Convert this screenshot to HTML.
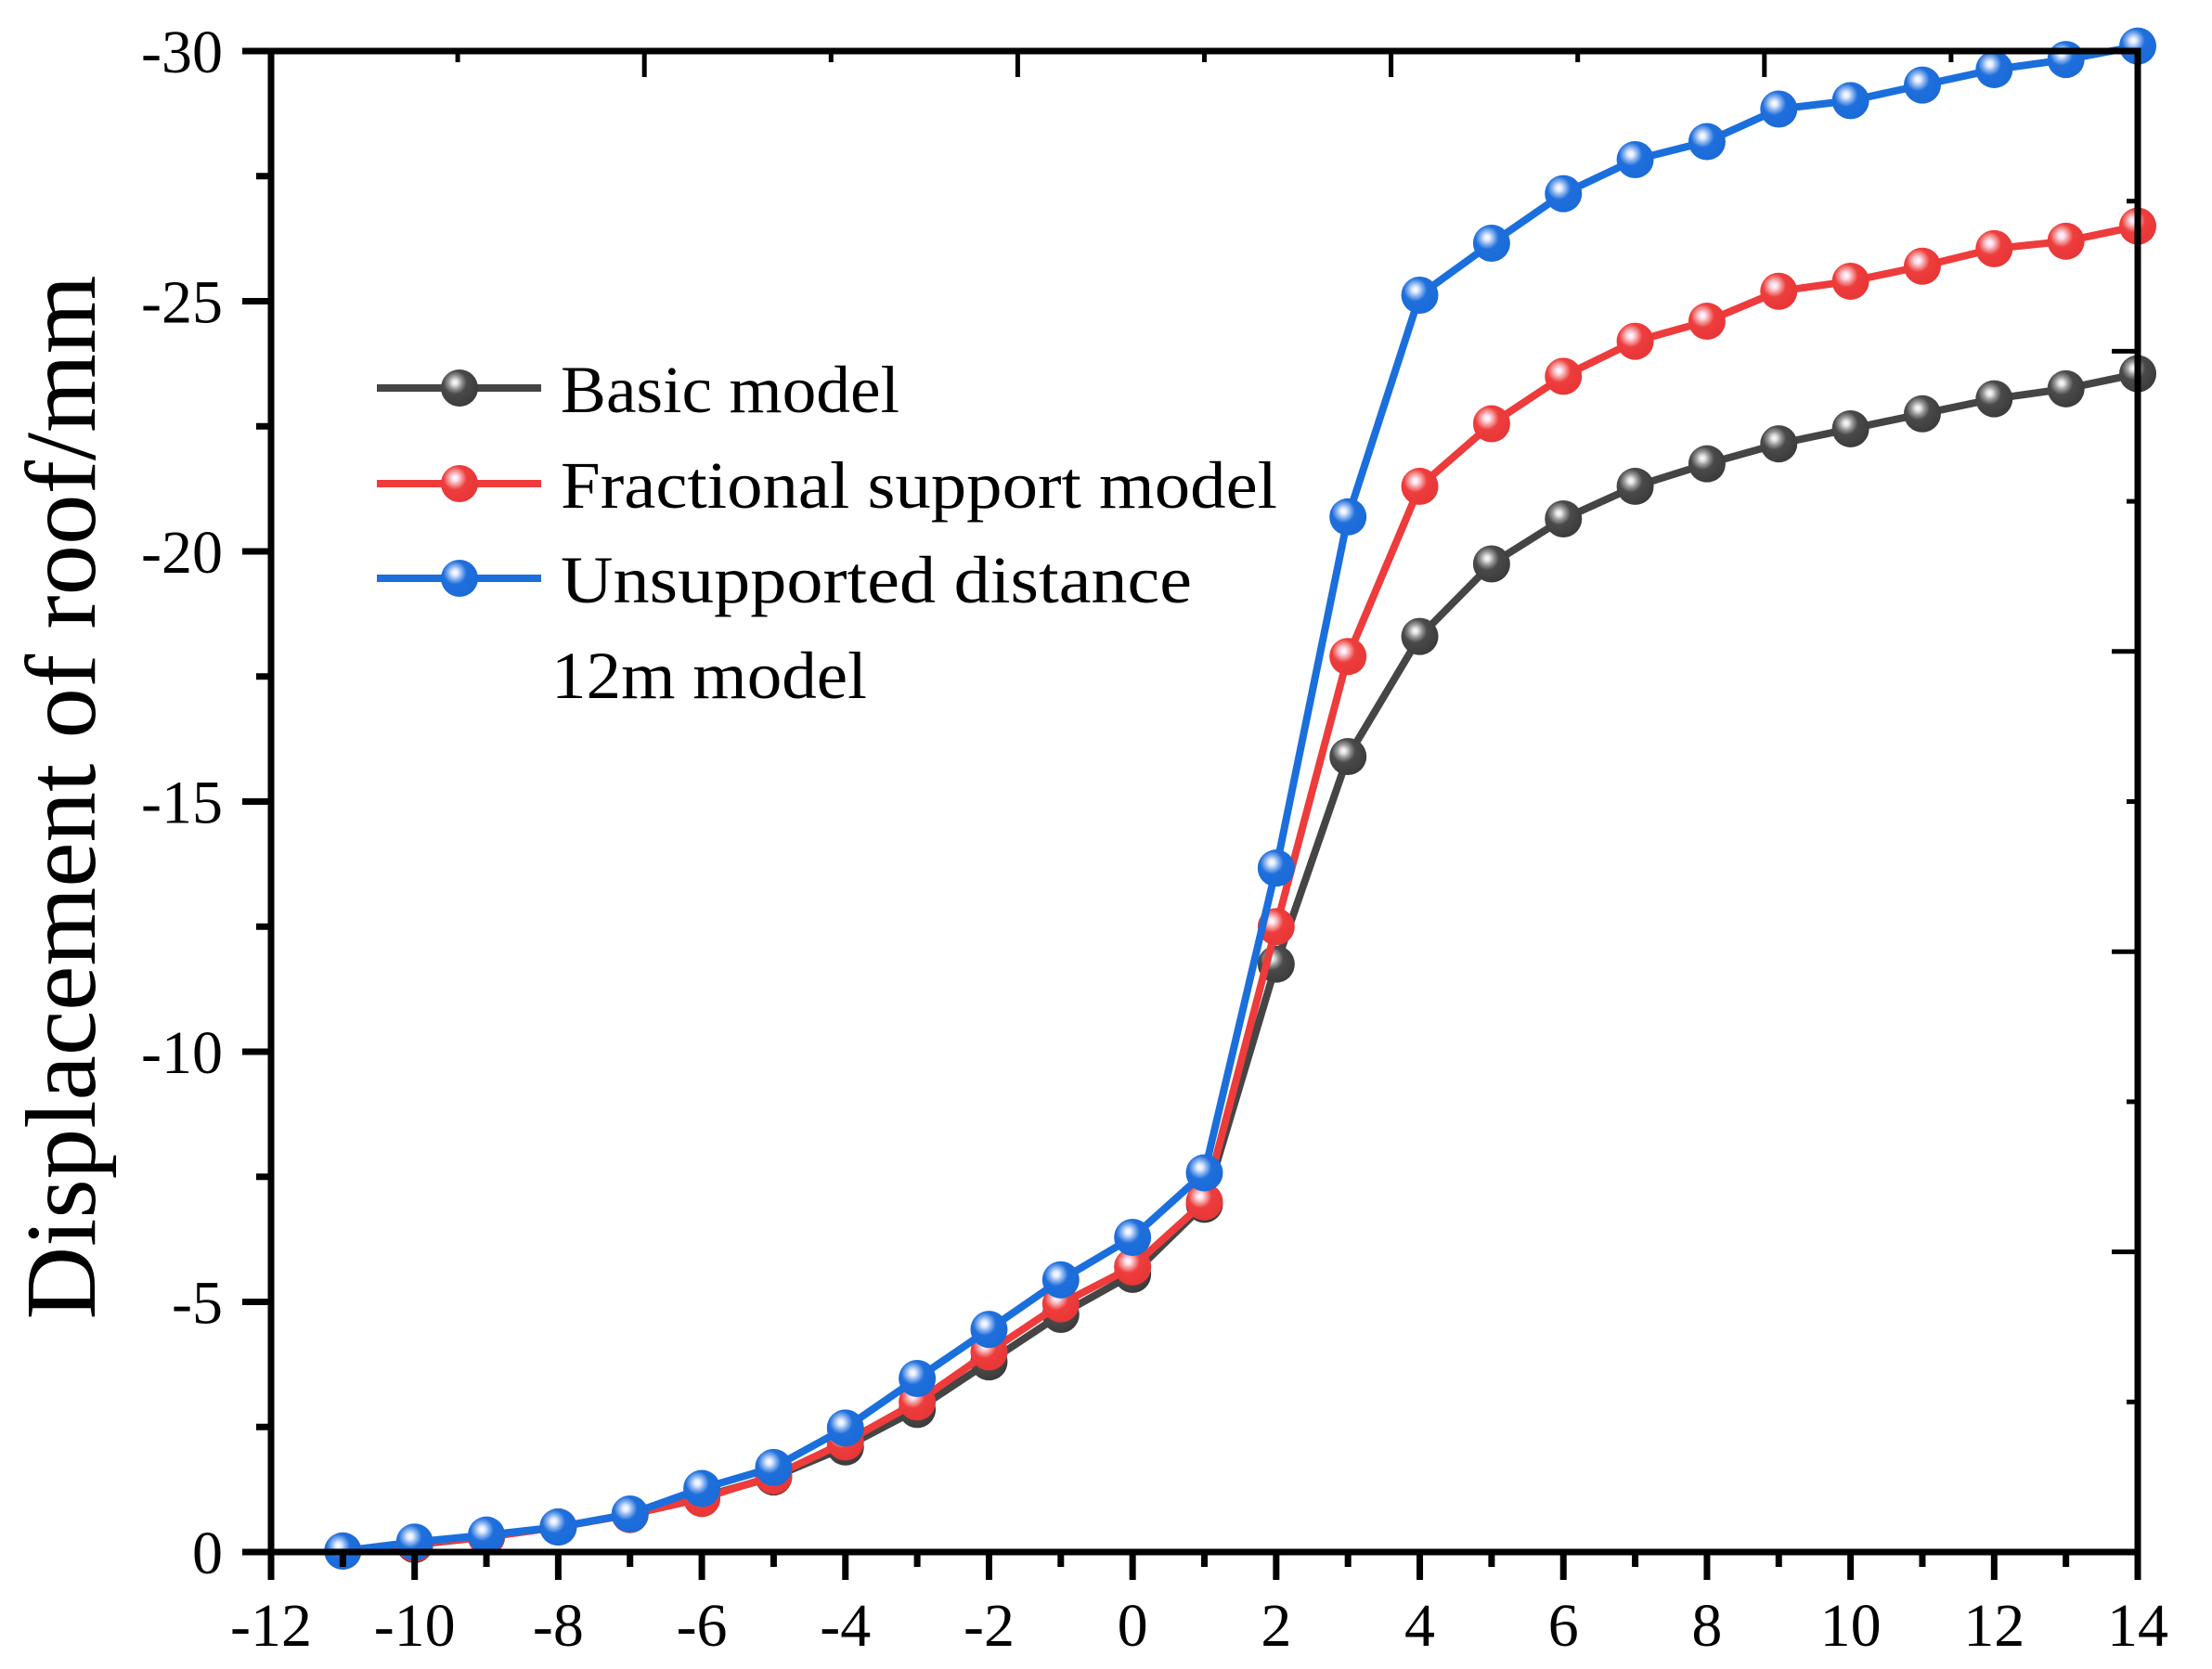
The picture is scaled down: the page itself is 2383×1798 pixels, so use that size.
<!DOCTYPE html>
<html><head><meta charset="utf-8"><style>html,body{margin:0;padding:0;background:#fff}svg{display:block}</style></head>
<body>
<svg id="chart" width="2383" height="1798" viewBox="0 0 2383 1798" xmlns="http://www.w3.org/2000/svg" font-family="'Liberation Serif', serif">
<defs>
<radialGradient id="gBlack" cx="0.38" cy="0.35" r="0.7"><stop offset="0" stop-color="#fff"/><stop offset="0.12" stop-color="#ddd"/><stop offset="0.25" stop-color="#999"/><stop offset="0.45" stop-color="#4a4a4a"/><stop offset="1" stop-color="#3a3a3a"/></radialGradient>
<radialGradient id="gRed" cx="0.38" cy="0.35" r="0.7"><stop offset="0" stop-color="#fff"/><stop offset="0.12" stop-color="#fde"/><stop offset="0.25" stop-color="#f5a0a0"/><stop offset="0.45" stop-color="#ee3d3d"/><stop offset="1" stop-color="#e83535"/></radialGradient>
<radialGradient id="gBlue" cx="0.38" cy="0.35" r="0.7"><stop offset="0" stop-color="#fff"/><stop offset="0.12" stop-color="#dfeaff"/><stop offset="0.25" stop-color="#8fb6ef"/><stop offset="0.45" stop-color="#1e6fdc"/><stop offset="1" stop-color="#1a6ad8"/></radialGradient>
</defs>
<g id="plot"></g>
<g id="axes"></g>
<text transform="translate(102,859) rotate(-90)" text-anchor="middle" font-size="108" textLength="1125" lengthAdjust="spacingAndGlyphs">Displacement of roof/mm</text>
<g>
  <g>
    <line x1="406" y1="418" x2="583" y2="418" stroke="#454545" stroke-width="8"/>
    <circle cx="495" cy="418" r="20" fill="url(#gBlack)"/>
    <text x="604" y="444" font-size="72" textLength="365" lengthAdjust="spacingAndGlyphs">Basic model</text>
  </g>
  <g>
    <line x1="406" y1="521" x2="583" y2="521" stroke="#ee3b3b" stroke-width="8"/>
    <circle cx="495" cy="521" r="20" fill="url(#gRed)"/>
    <text x="604" y="547" font-size="72" textLength="772" lengthAdjust="spacingAndGlyphs">Fractional support model</text>
  </g>
  <g>
    <line x1="406" y1="623" x2="583" y2="623" stroke="#1a6fdc" stroke-width="8"/>
    <circle cx="495" cy="623" r="20" fill="url(#gBlue)"/>
    <text x="604" y="649" font-size="72" textLength="680" lengthAdjust="spacingAndGlyphs">Unsupported distance</text>
    <text x="594" y="752" font-size="72" textLength="340" lengthAdjust="spacingAndGlyphs">12m model</text>
  </g>
</g>
</svg>
<script>
const xs = [-11,-10,-9,-8,-7,-6,-5,-4,-3,-2,-1,0,1,2,3,4,5,6,7,8,9,10,11,12,13,14];
const basicVals = [0.02,0.15,0.3,0.5,0.75,1.1,1.5,2.1,2.85,3.8,4.75,5.55,6.95,11.75,15.9,18.3,19.75,20.65,21.3,21.75,22.15,22.45,22.75,23.05,23.25,23.55];
const fractionalVals = [0.02,0.17,0.3,0.5,0.75,1.07,1.52,2.2,3.0,4.0,4.96,5.7,7.0,12.5,17.9,21.3,22.55,23.5,24.2,24.6,25.2,25.4,25.7,26.05,26.2,26.5];
const unsupportedVals = [0.02,0.2,0.34,0.5,0.76,1.27,1.69,2.48,3.47,4.45,5.44,6.29,7.58,13.67,20.69,25.12,26.16,27.15,27.83,28.19,28.84,29.01,29.32,29.63,29.83,30.1];
const xTickLabels = ["-12","-10","-8","-6","-4","-2","0","2","4","6","8","10","12","14"];
const yTickLabels = ["0","-5","-10","-15","-20","-25","-30"];

const L=292,R=2303,T=55,B=1672,XMIN=-12,XMAX=14,YMAX=30;
const X=v=>L+(v-XMIN)/(XMAX-XMIN)*(R-L);
const Y=v=>B-v/YMAX*(B-T);
const NS="http://www.w3.org/2000/svg";
function mk(tag,attrs,parent){const e=document.createElementNS(NS,tag);for(const k in attrs)e.setAttribute(k,attrs[k]);parent.appendChild(e);return e;}
const axes=document.getElementById('axes'), plot=document.getElementById('plot');

const fr=mk('rect',{x:L,y:T,width:R-L,height:B-T,fill:'none',stroke:'#000','stroke-width':7},axes);



// bottom x ticks
for(let v=XMIN;v<=XMAX;v++){
  const major=(v%2===0), len=major?30:16, x=X(v);
  const t1=mk('line',{x1:x,y1:B,x2:x,y2:B+len,stroke:'#000','stroke-width':7},axes);
  
  
}
// top axis ticks (independent 10-step scale, inward)
for(let i=0;i<=10;i++){
  const x=L+i*(R-L)/10, len=(i%2===0)?28:12;
  const t2=mk('line',{x1:x,y1:T,x2:x,y2:T+len,stroke:'#000','stroke-width':5},axes);
  
  
}
// right axis ticks (inward)
for(let i=0;i<=10;i++){
  const y=T+i*(B-T)/10, len=(i%2===0)?28:12;
  const t2=mk('line',{x1:R-len,y1:y,x2:R,y2:y,stroke:'#000','stroke-width':5},axes);
  
  
}
xTickLabels.forEach(s=>{
  const t=mk('text',{x:X(parseFloat(s)),y:1773,'text-anchor':'middle','font-size':66},axes);
  t.textContent=s;
  
  
});
for(let i=0;i<=12;i++){
  const v=i*2.5, major=(i%2===0), len=major?31:16, y=Y(v);
  const t1=mk('line',{x1:L-len,y1:y,x2:L,y2:y,stroke:'#000','stroke-width':7},axes);
  
  
}
yTickLabels.forEach(s=>{
  const t=mk('text',{x:240,y:Y(-parseFloat(s))+23,'text-anchor':'end','font-size':66},axes);
  t.textContent=s;
  
  
});

function series(vals,color,grad,name){
  const g=mk('g',{},plot);
  
  
  const pl=mk('polyline',{points:vals.map((v,i)=>X(xs[i])+','+Y(v)).join(' '),fill:'none',stroke:color,'stroke-width':8,'stroke-linejoin':'round'},g);
  
  
  vals.forEach((v,i)=>{
    const c=mk('circle',{cx:X(xs[i]),cy:Y(v),r:20,fill:'url(#'+grad+')'},g);
    
    
  });
}
series(basicVals,'#454545','gBlack','basic-model-series');
series(fractionalVals,'#ee3b3b','gRed','fractional-support-series');
series(unsupportedVals,'#1a6fdc','gBlue','unsupported-distance-series');
</script>
</body></html>
